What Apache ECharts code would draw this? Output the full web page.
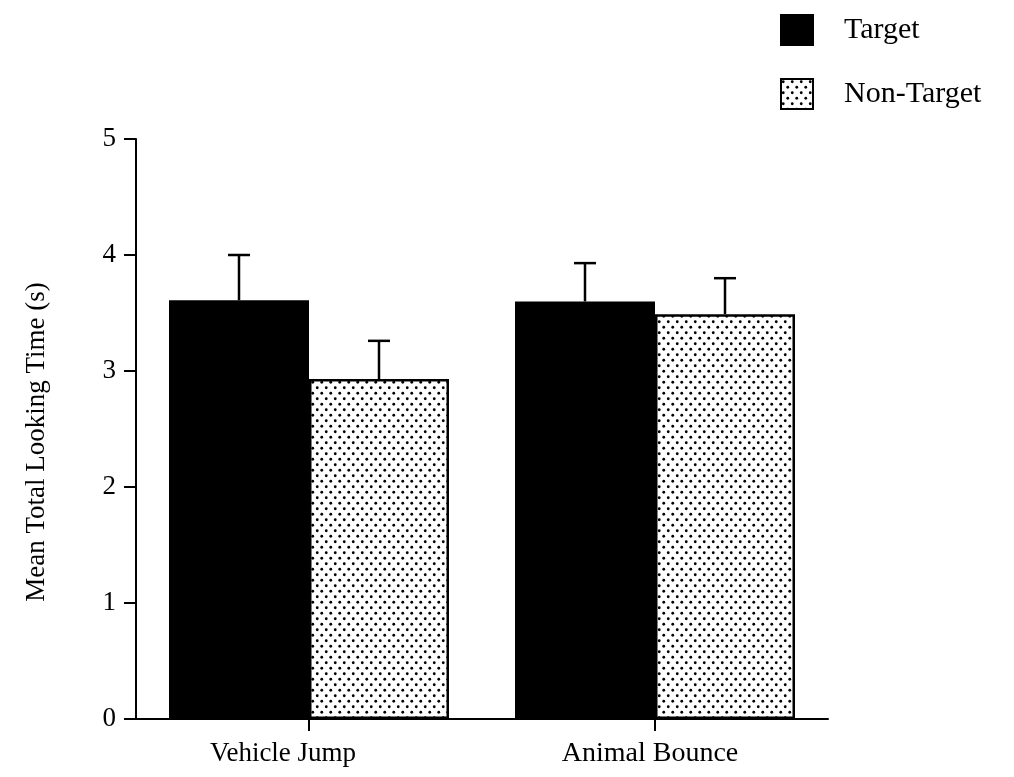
<!DOCTYPE html>
<html>
<head>
<meta charset="utf-8">
<script src="https://cdn.jsdelivr.net/npm/echarts@6/dist/echarts.min.js"></script>
<style>
html,body{margin:0;padding:0;background:#fff;}
#chart{width:1014px;height:777px;}
</style>
</head>
<body>
<div id="chart"></div>
<script>
// ---- data ----
const categories = ['Vehicle Jump', 'Animal Bounce'];
const seriesNames = ['Target', 'Non-Target'];
const targetMeans = [3.61, 3.60];
const targetErrors = [0.39, 0.33];
const nonTargetMeans = [2.93, 3.49];
const nonTargetErrors = [0.33, 0.31];
const yTicks = [0, 1, 2, 3, 4, 5];

// ---- styling ----
const FONT = '"Liberation Serif", "Times New Roman", serif';
const BAR_W = 140;

function dotPattern() {
  const c = document.createElement('canvas');
  c.width = 9; c.height = 11;
  const g = c.getContext('2d');
  g.fillStyle = '#ffffff';
  g.fillRect(0, 0, 9, 11);
  g.fillStyle = '#000000';
  g.beginPath(); g.arc(2.25, 2.75, 1.4, 0, Math.PI * 2); g.fill();
  g.beginPath(); g.arc(6.75, 8.25, 1.4, 0, Math.PI * 2); g.fill();
  return c;
}
const pattern = { image: dotPattern(), repeat: 'repeat' };

const errData = [];
categories.forEach((c, i) => {
  errData.push([i, targetMeans[i], targetMeans[i] + targetErrors[i], 0]);
  errData.push([i, nonTargetMeans[i], nonTargetMeans[i] + nonTargetErrors[i], 1]);
});

const chart = echarts.init(document.getElementById('chart'), null, { renderer: 'canvas' });
chart.setOption({
  animation: false,
  backgroundColor: '#ffffff',
  textStyle: { fontFamily: FONT, color: '#000' },
  legend: {
    orient: 'vertical',
    left: 780, top: 14,
    padding: 0,
    icon: 'rect',
    itemWidth: 32, itemHeight: 30,
    itemGap: 32,
    data: seriesNames,
    textStyle: { fontFamily: FONT, fontSize: 30, color: '#000', padding: [4, 0, 0, 26] }
  },
  grid: { left: 136, top: 139, width: 692, height: 580, containLabel: false },
  xAxis: {
    type: 'category',
    data: categories,
    axisLine: { lineStyle: { color: '#000', width: 2 } },
    axisTick: { show: true, alignWithLabel: true, length: 12, lineStyle: { color: '#000', width: 2 } },
    axisLabel: {
      margin: 21,
      fontFamily: FONT, fontSize: 27, color: '#000',
      formatter: function (v, i) { return i === 0 ? '{a|' + v + '}' : '{b|' + v + '}'; },
      rich: {
        a: { fontFamily: FONT, fontSize: 27, color: '#000', padding: [0, 52, 0, 0] },
        b: { fontFamily: FONT, fontSize: 28, color: '#000', padding: [0, 10, 0, 0] }
      }
    },
    splitLine: { show: false }
  },
  yAxis: {
    type: 'value',
    min: yTicks[0], max: yTicks[yTicks.length - 1], interval: 1,
    name: 'Mean Total Looking Time (s)',
    nameLocation: 'middle',
    nameGap: 86,
    nameTextStyle: { fontFamily: FONT, fontSize: 27, color: '#000', padding: [0, 26, 0, 0] },
    axisLine: { show: true, lineStyle: { color: '#000', width: 2 } },
    axisTick: { show: true, length: 12, lineStyle: { color: '#000', width: 2 } },
    axisLabel: { margin: 20, fontFamily: FONT, fontSize: 27, color: '#000' },
    splitLine: { show: false }
  },
  series: [
    {
      name: seriesNames[0], type: 'bar', data: targetMeans,
      barWidth: BAR_W, barGap: '0%',
      itemStyle: { color: '#000', borderColor: '#000', borderWidth: 2 }
    },
    {
      name: seriesNames[1], type: 'bar', data: nonTargetMeans,
      barWidth: BAR_W, barGap: '0%',
      itemStyle: { color: pattern, borderColor: '#000', borderWidth: 2.5 }
    },
    {
      type: 'custom',
      data: errData,
      z: 10,
      renderItem: function (params, api) {
        const cat = api.value(0);
        const s = api.value(3);
        const base = api.coord([cat, api.value(1)]);
        const top = api.coord([cat, api.value(2)]);
        const x = base[0] + (s === 0 ? -BAR_W / 2 : BAR_W / 2);
        const cap = 11;
        const st = { stroke: '#000', lineWidth: 2.5 };
        return {
          type: 'group',
          children: [
            { type: 'line', shape: { x1: x, y1: base[1], x2: x, y2: top[1] }, style: st },
            { type: 'line', shape: { x1: x - cap, y1: top[1], x2: x + cap, y2: top[1] }, style: st }
          ]
        };
      }
    }
  ]
});
</script>
</body>
</html>
